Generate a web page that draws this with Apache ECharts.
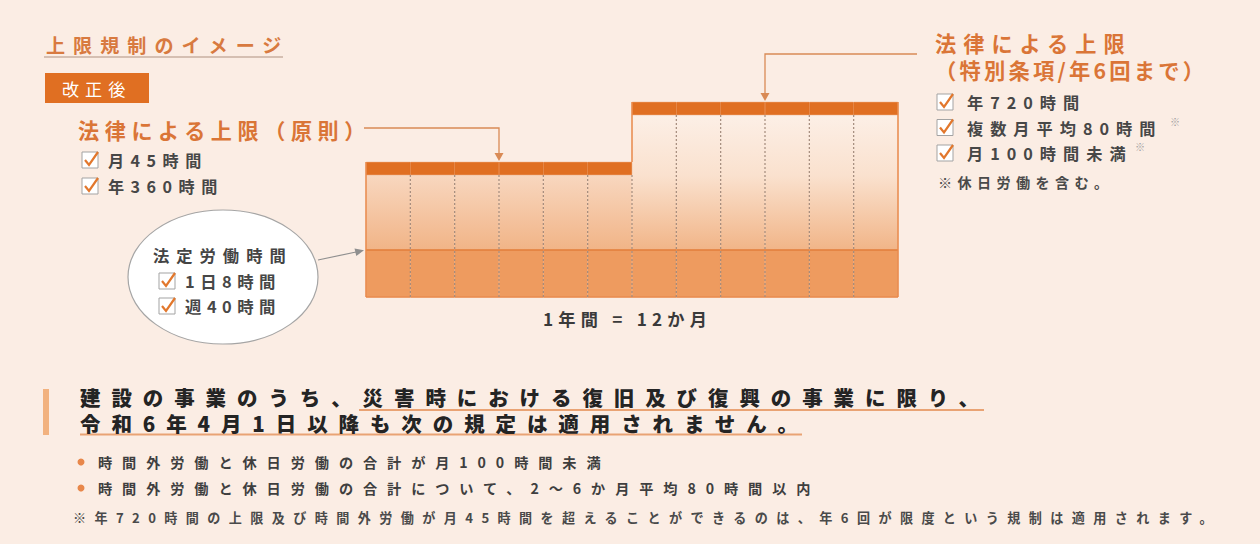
<!DOCTYPE html>
<html lang="ja">
<head>
<meta charset="utf-8">
<script src="https://cdn.jsdelivr.net/npm/echarts@6/dist/echarts.min.js"></script>
<style>
  html, body { margin: 0; padding: 0; background: #FBEDE4; }
  #chart { width: 1260px; height: 544px; }
  #chart text[style*="19.1px"] { letter-spacing: 8px; }
  #chart text[style*="17.1px"] { letter-spacing: 6px; }
  #chart text[style*="21.1px"] { letter-spacing: 5.6px; }
  #chart text[style*="16.1px"] { letter-spacing: 6.5px; }
  #chart text[style*="21.2px"] { letter-spacing: 7px; }
  #chart text[style*="21.3px"] { letter-spacing: 3.2px; }
  #chart text[style*="16.2px"] { letter-spacing: 7px; }
  #chart text[style*="14.1px"] { letter-spacing: 5.4px; }
  #chart text[style*="16.3px"] { letter-spacing: 7px; }
  #chart text[style*="16.4px"] { letter-spacing: 5.5px; }
  #chart text[style*="17.2px"] { letter-spacing: 5.2px; }
  #chart text[style*="20.5px"] { letter-spacing: 10.9px; }
  #chart text[style*="14.2px"] { letter-spacing: 9.9px; }
  #chart text[style*="13.1px"] { letter-spacing: 8.4px; }
</style>
</head>
<body>
<div id="chart"></div>
<script>
// ---- data ----
const months = ['1月','2月','3月','4月','5月','6月','7月','8月','9月','10月','11月','12月'];
const statutoryHours = [47, 47, 47, 47, 47, 47, 47, 47, 47, 47, 47, 47];        // 法定労働時間 layer
const overtimeRange  = [75, 75, 75, 75, 75, 75, 135, 135, 135, 135, 135, 135];  // 時間外 layer
const capBand        = [13, 13, 13, 13, 13, 13, 13, 13, 13, 13, 13, 13];        // 上限 band
const axisMax = 195;

const principleChecks = ['月45時間', '年360時間'];
const specialChecks   = ['年720時間', '複数月平均80時間', '月100時間未満'];
const statutoryChecks = ['1日8時間', '週40時間'];
const bullets = ['時間外労働と休日労働の合計が月100時間未満',
                 '時間外労働と休日労働の合計について、2～6か月平均80時間以内'];

const totals = months.map((m, i) => statutoryHours[i] + overtimeRange[i] + capBand[i]);
const edgeData = months.map((m, i) => [
  i,
  totals[i],
  i > 0 ? totals[i - 1] : 0,
  i > 0 ? Math.min(totals[i] - capBand[i], totals[i - 1] - capBand[i - 1]) : 0,
  statutoryHours[i]
]);

const FF = "'Noto Sans CJK JP', sans-serif";
const ORANGE = '#E06F22';

const gradLeft = new echarts.graphic.LinearGradient(0, 0, 0, 1, [
  { offset: 0, color: '#F8D7BF' }, { offset: 1, color: '#F1B487' }]);
const gradRight = new echarts.graphic.LinearGradient(0, 0, 0, 1, [
  { offset: 0, color: '#FCEFE6' }, { offset: 0.45, color: '#FAE1CE' }, { offset: 1, color: '#F1B588' }]);
const maxOver = Math.max.apply(null, overtimeRange);

function txt(x, y, text, size, color, weight, lineHeight) {
  const el = { type: 'text', x: x, y: y, z: 10,
    style: { text: text, fill: color, font: (weight || 'bold') + ' ' + size + 'px ' + FF,
             align: 'left', verticalAlign: 'middle' } };
  if (lineHeight) el.style.lineHeight = lineHeight;
  return el;
}
function checkbox(x, cy) {
  return [
    { type: 'rect', z: 10, shape: { x: x, y: cy - 8, width: 16, height: 16 },
      style: { fill: '#FFFFFF', stroke: '#A3A3A3', lineWidth: 1 } },
    { type: 'polyline', z: 11, shape: { points: [[x + 3, cy], [x + 7, cy + 5], [x + 16, cy - 8]] },
      style: { stroke: '#E2772C', lineWidth: 2.2, fill: null } }
  ];
}

const chart = echarts.init(document.getElementById('chart'), null, { renderer: 'svg' });

const specialHeading = {
  type: 'text', x: 935, y: 55.75, z: 10,
  style: {
    text: '{a|法律による上限}\n{b|（特別条項/年6回まで）}',
    align: 'left', verticalAlign: 'middle',
    rich: {
      a: { fill: '#DA7537', fontSize: 21.2, fontWeight: 'bold', fontFamily: FF, lineHeight: 26.5 },
      b: { fill: '#DA7537', fontSize: 21.3, fontWeight: 'bold', fontFamily: FF, lineHeight: 26.5 }
    }
  }
};

let graphics = [
  txt(46, 45, '上限規制のイメージ', 19.1, '#D87A40'),
  { type: 'line', shape: { x1: 44, y1: 57, x2: 283, y2: 57 }, style: { stroke: '#C9AFA2', lineWidth: 1.5 } },
  { type: 'rect', shape: { x: 45, y: 73, width: 104, height: 30 }, style: { fill: ORANGE } },
  txt(62, 88, '改正後', 17.1, '#FFFFFF', 'normal'),
  txt(78, 130, '法律による上限（原則）', 21.1, '#DA7537'),
  specialHeading,
  txt(938, 182, '※休日労働を含む。', 14.1, '#4A4A4A'),
  txt(1170, 121, '※', 10.1, '#A0A0A0', 'normal'),
  txt(1135, 146, '※', 10.1, '#A0A0A0', 'normal'),
  { type: 'ellipse', shape: { cx: 223, cy: 277, rx: 95, ry: 67 }, style: { fill: '#FFFFFF', stroke: '#A5A5A5', lineWidth: 1.2 } },
  txt(153, 255, '法定労働時間', 16.3, '#444444'),
  { type: 'line', shape: { x1: 318, y1: 260, x2: 356, y2: 252 }, style: { stroke: '#8F8F8F', lineWidth: 1.2 } },
  { type: 'polygon', shape: { points: [[364, 250.3], [354.5, 248.5], [356.3, 256]] }, style: { fill: '#8F8F8F' } },
  txt(543, 318, '1年間 = 12か月', 17.2, '#3A3A3A'),
  { type: 'rect', shape: { x: 43, y: 389, width: 6, height: 46 }, style: { fill: '#F2B27F' } },
  txt(80, 410, '建設の事業のうち、災害時における復旧及び復興の事業に限り、\n令和6年4月1日以降も次の規定は適用されません。', 20.5, '#242424', '900', 25.5),
  { type: 'line', shape: { x1: 359, y1: 410, x2: 984, y2: 410 }, style: { stroke: '#E9A374', lineWidth: 2 } },
  { type: 'line', shape: { x1: 80, y1: 434.5, x2: 802, y2: 434.5 }, style: { stroke: '#E9A374', lineWidth: 2 } },
  txt(73, 517, '※年720時間の上限及び時間外労働が月45時間を超えることができるのは、年6回が限度という規制は適用されます。', 13.1, '#4A4A4A')
];
principleChecks.forEach((t, i) => { graphics = graphics.concat(checkbox(82, 160 + i * 26)); graphics.push(txt(108, 160 + i * 26, t, 16.1, '#474747')); });
specialChecks.forEach((t, i) => { graphics = graphics.concat(checkbox(937, 102 + i * 25.5)); graphics.push(txt(967, 102 + i * 25.5, t, 16.2, '#474747')); });
statutoryChecks.forEach((t, i) => { graphics = graphics.concat(checkbox(159, 281 + i * 25)); graphics.push(txt(185, 281 + i * 25, t, 16.4, '#474747')); });
bullets.forEach((t, i) => {
  graphics.push({ type: 'circle', shape: { cx: 81, cy: 462 + i * 26, r: 3.5 }, style: { fill: '#E8874A' } });
  graphics.push(txt(98, 462 + i * 26, t, 14.2, '#3F3F3F'));
});

const option = {
  backgroundColor: '#FBEDE4',
  animation: false,
  grid: { left: 366, right: 362, top: 102, bottom: 247 },
  xAxis: { type: 'category', data: months, show: false, boundaryGap: true },
  yAxis: { type: 'value', min: 0, max: axisMax, show: false, splitLine: { show: false } },
  series: [
    { type: 'bar', name: '法定労働時間', stack: 'h', barCategoryGap: '0%', data: statutoryHours,
      itemStyle: { color: '#EE9B5F', borderColor: '#EE9B5F', borderWidth: 0.6 } },
    { type: 'bar', name: '時間外', stack: 'h', barCategoryGap: '0%',
      data: overtimeRange.map(v => ({ value: v, itemStyle: { color: v < maxOver ? gradLeft : gradRight, borderColor: v < maxOver ? gradLeft : gradRight, borderWidth: 0.6 } })) },
    { type: 'bar', name: '上限', stack: 'h', barCategoryGap: '0%', data: capBand,
      itemStyle: { color: ORANGE, borderColor: ORANGE, borderWidth: 0.6 } },
    { type: 'custom', name: 'edges', data: edgeData, encode: { x: 0, y: 1 }, z: 5,
      renderItem: function (params, api) {
        const i = api.value(0);
        const w = api.size([1, 0])[0];
        const c = api.coord([i, 0]);
        const xL = c[0] - w / 2, xR = c[0] + w / 2, yB = c[1];
        const yT = api.coord([i, api.value(1)])[1];
        const yPrev = api.coord([i, api.value(2)])[1];
        const yDash = api.coord([i, api.value(3)])[1];
        const yBase = api.coord([i, api.value(4)])[1];
        const edge = { stroke: '#E8894A', lineWidth: 1.5 };
        const ch = [];
        ch.push({ type: 'line', shape: { x1: xL, y1: yB, x2: xR, y2: yB }, style: edge });
        ch.push({ type: 'line', shape: { x1: xL, y1: yBase, x2: xR, y2: yBase }, style: { stroke: '#E27A35', lineWidth: 1.3 } });
        ch.push({ type: 'line', shape: { x1: xL, y1: yPrev, x2: xL, y2: yT }, style: edge });
        if (i > 0) {
          ch.push({ type: 'line', shape: { x1: xL, y1: yDash, x2: xL, y2: yB },
                    style: { stroke: '#A38A7B', lineWidth: 1.2, lineDash: [2, 2] } });
        }
        if (i === months.length - 1) {
          ch.push({ type: 'line', shape: { x1: xR, y1: yB, x2: xR, y2: yT }, style: edge });
        }
        return { type: 'group', children: ch };
      } }
  ],
  graphic: graphics
};
chart.setOption(option);

// annotation arrows pointing at month boundaries, positioned through the axes
const xPix = i => chart.convertToPixel({ xAxisIndex: 0 }, i);
const yPix = v => chart.convertToPixel({ yAxisIndex: 0 }, v);
const bx = k => (xPix(k - 1) + xPix(k)) / 2;
function arrow(xStart, yLine, k) {
  const x = bx(k), yTip = yPix(totals[k]) - 1;
  const st = { stroke: '#D98A55', lineWidth: 1.3, fill: null };
  return [
    { type: 'polyline', z: 9, shape: { points: [[xStart, yLine], [x, yLine], [x, yTip - 6]] }, style: st },
    { type: 'polygon', z: 9, shape: { points: [[x - 4.5, yTip - 8], [x + 4.5, yTip - 8], [x, yTip]] }, style: { fill: '#D98A55' } }
  ];
}
chart.setOption({ graphic: graphics.concat(arrow(364, 128, 3), arrow(917, 54, 9)) });
</script>
</body>
</html>
